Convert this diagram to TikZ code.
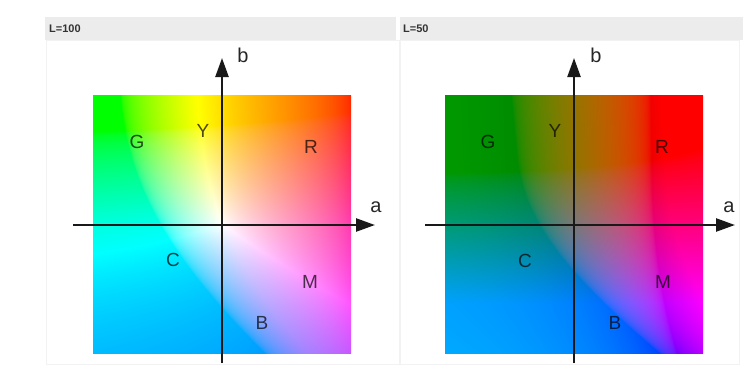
\documentclass[tikz,border=0pt]{standalone}
\usepackage{fontspec}
\setmainfont{Liberation Sans}
\usetikzlibrary{arrows.meta}

% PostScript pieces for the Lab planes
\def\psclamp{ dup 0 lt {pop 0} if dup 1 gt {pop 1} if }
\def\psgamma{ dup 0.0031308 gt {0.416667 exp 1.055 mul 0.055 sub} {12.92 mul} ifelse }

% #1 name, #2 f(L), #3-#5 Y terms of R G B, #6/#7 weights clamp/scale
\newcommand\labplane[7]{%
  \pgfdeclarefunctionalshading{#1}{\pgfpoint{-50bp}{-50bp}}{\pgfpoint{50bp}{50bp}}{}{
    0.0256 mul neg #2 add
    dup 0.206897 gt {dup dup mul mul} {0.137931 sub 0.128419 mul} ifelse
    1.08883 mul
    exch 0.01024 mul #2 add
    dup 0.206897 gt {dup dup mul mul} {0.137931 sub 0.128419 mul} ifelse
    0.95047 mul
    dup 3.2406 mul 2 index -0.4986 mul add #3 add
    2 index 0.0415 mul 2 index -0.9689 mul add #4 add
    3 index 1.0570 mul 3 index 0.0557 mul add #5 add
    5 3 roll pop pop
    2 index 2 index 2 copy lt {exch} if pop
    1 index 2 copy lt {exch} if pop
    1 2 copy lt {exch} if pop
    4 -1 roll
    dup \psclamp\psgamma #6 mul exch 2 index div \psclamp\psgamma #7 mul add
    4 -1 roll
    dup \psclamp\psgamma #6 mul exch 3 index div \psclamp\psgamma #7 mul add
    4 -1 roll
    dup \psclamp\psgamma #6 mul exch 4 index div \psclamp\psgamma #7 mul add
    4 -1 roll pop
  }}
\labplane{lab100}{1.0}{-1.5372}{1.8758}{-0.2040}{0.3}{0.7}
\labplane{lab50}{0.568966}{-0.283132}{0.345498}{-0.037574}{1}{0}

\tikzset{
  header/.style={fill=gray!15},
  panel/.style={draw=gray!10, line width=0.8pt},
  hdlabel/.style={anchor=west, inner sep=0pt, text=black!80, font=\fontsize{11}{13}\selectfont\bfseries},
  axis/.style={line width=2.4pt, black!90, -{Triangle[length=19pt,width=13pt]}},
  axlabel/.style={inner sep=0pt, text=black!85, font=\fontsize{20}{22}\selectfont},
  hue/.style={inner sep=0pt, text=black, text opacity=0.7, font=\fontsize{19}{22}\selectfont}
}

\begin{document}
\begin{tikzpicture}[x=1pt, y=-1pt]
    \useasboundingbox (0,0) rectangle (743,370);

    % header bars
    \fill[header] (45,17) rectangle (396,40);
    \fill[header] (400,17) rectangle (743,40);
    \node[hdlabel] (hdA) at (49,29) {L=100};
    \node[hdlabel] (hdB) at (403,29) {L=50};

    \draw[panel] (46,40) rectangle (399,364);
    \draw[panel] (400,40) rectangle (739,364);

    % the two a-b planes
    \shade[shading=lab100] (93,95) rectangle (351,353);
    \shade[shading=lab50] (445,95) rectangle (703,353);

    % L=100
    \coordinate (awA) at (73,225);
    \coordinate (aeA) at (375,225);
    \coordinate (bsA) at (222,363);
    \coordinate (bnA) at (222,58);
    \draw[axis] (awA) -- (aeA);
    \draw[axis] (bsA) -- (bnA);
    \node[axlabel] (aA) at (376,207) {a};
    \node[axlabel] (bA) at (243,55) {b};
    \node[hue] (gA) at (137,142) {G};
    \node[hue] (yA) at (203,131) {Y};
    \node[hue] (rA) at (311,147) {R};
    \node[hue] (cA) at (173,260) {C};
    \node[hue] (mA) at (310,282) {M};
    \node[hue] (ba) at (262,323) {B};

    % L=50
    \coordinate (awB) at (425,225);
    \coordinate (aeB) at (735,225);
    \coordinate (bsB) at (574,363);
    \coordinate (bnB) at (574,58);
    \draw[axis] (awB) -- (aeB);
    \draw[axis] (bsB) -- (bnB);
    \node[axlabel] (aB) at (729,207) {a};
    \node[axlabel] (bB) at (596,55) {b};
    \node[hue] (gB) at (488,142) {G};
    \node[hue] (yB) at (555,131) {Y};
    \node[hue] (rB) at (662,147) {R};
    \node[hue] (cB) at (525,261) {C};
    \node[hue] (mB) at (663,282) {M};
    \node[hue] (bb) at (615,323) {B};
\end{tikzpicture}
\end{document}
